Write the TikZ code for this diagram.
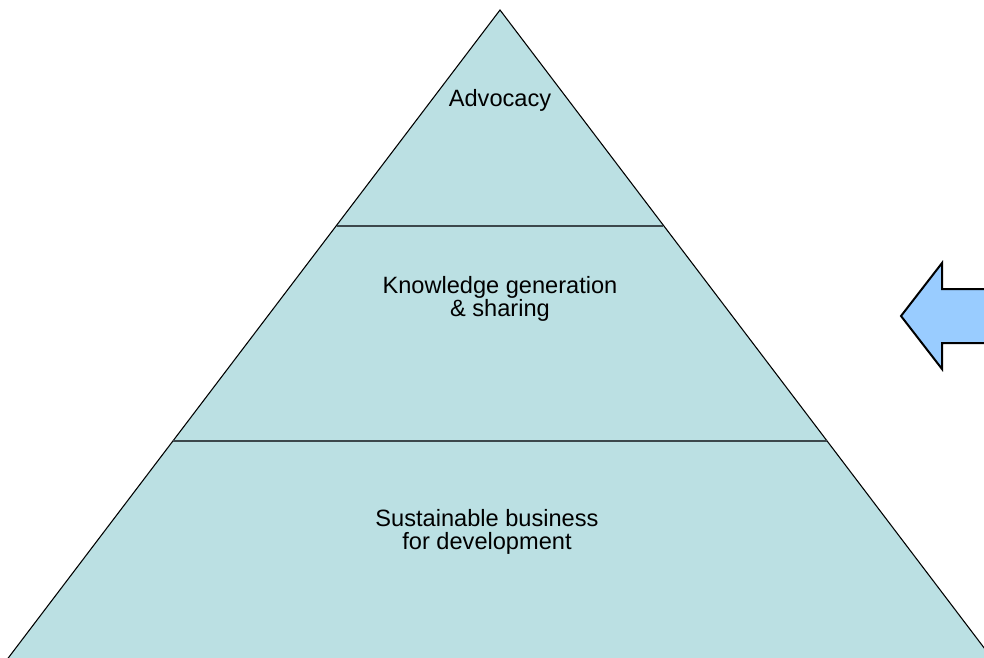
\documentclass[tikz,border=0pt]{standalone}
\usepackage{fontspec}
\setmainfont{Liberation Sans}
\usepackage{tikz}
\usetikzlibrary{positioning, calc}

\definecolor{pyrfill}{RGB}{187,224,227}
\definecolor{pyrline}{RGB}{60,72,76}
\definecolor{arrowfill}{RGB}{153,204,255}

\begin{document}
\begin{tikzpicture}[x=0.75pt, y=-0.75pt,
    level/.style={align=center, font=\fontsize{17.7}{17.2}\selectfont},
    divider/.style={draw=pyrline, line width=1.6pt},
    ]
    \useasboundingbox (0,0) rectangle (984,657);
    \clip (0,0) rectangle (984,657);

    % pyramid
    \coordinate (Apex) at (500,10);
    \coordinate (BaseLeft) at (6.7,660);
    \coordinate (BaseRight) at (993.3,660);
    \draw[fill=pyrfill, line width=0.8pt] (Apex) -- (BaseLeft) -- (BaseRight) -- cycle;

    \coordinate (TopLeft) at (337,226);
    \coordinate (TopRight) at (663,226);
    \coordinate (MidLeft) at (173,441);
    \coordinate (MidRight) at (827,441);
    \draw[divider] (TopLeft) -- (TopRight);
    \draw[divider] (MidLeft) -- (MidRight);

    \node (Advocacy) [level] at (500,100) {Advocacy};
    \node (Knowledge) [level] at (500,299) {Knowledge generation\\\& sharing};
    \node (Business) [level] at (487,532) {Sustainable business\\for development};

    % arrow at the right
    \draw[fill=arrowfill, line width=1.5pt, line join=miter]
        (901,316) -- (942,263) -- (942,289) -- (1000,289)
        -- (1000,343) -- (942,343) -- (942,369) -- cycle;
\end{tikzpicture}
\end{document}
